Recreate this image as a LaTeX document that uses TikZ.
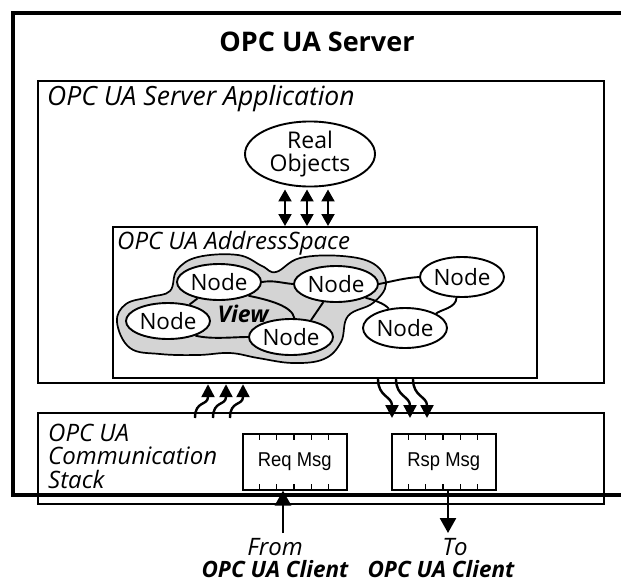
\documentclass[tikz,border=0pt]{standalone}
\usepackage{fontspec}
\setmainfont{Open Sans}
\newfontfamily\arialf[FakeStretch=0.92]{Liberation Sans}
\usetikzlibrary{shapes.geometric,arrows.meta,calc}
\begin{document}
\begin{tikzpicture}[x=1pt,y=-1pt,
  box/.style={draw, line width=1.8pt, inner sep=0, anchor=north west},
  nd/.style={draw, ellipse, line width=1.9pt, fill=white, minimum width=84pt, minimum height=36pt, inner sep=0, font=\fontsize{22.5}{24}\selectfont},
  edge/.style={line width=1.9pt},
  dbl/.style={line width=2pt, {Triangle[length=12pt,width=13pt]}-{Triangle[length=12pt,width=13pt]}},
  wavy/.style={line width=2.4pt, -{Triangle[length=13pt,width=13pt]}},
  big/.style={line width=2.6pt, -{Triangle[length=15pt,width=16pt]}},
  lbl/.style={font=\fontsize{24}{23.5}\selectfont\itshape, inner sep=0},
  bl/.style={font=\fontsize{22.5}{24}\selectfont\bfseries\itshape, inner sep=0},
  msg/.style={box, line width=1.5pt, minimum width=104pt, minimum height=56pt},
  tick/.style={line width=1.3pt}
]
\useasboundingbox (0,0) rectangle (621,582);
\fill[white] (0,0) rectangle (621,582);

% application box
\node[box, line width=2.2pt, minimum width=566pt, minimum height=302pt] (app) at (37,80) {};
\node[lbl, font=\fontsize{26.5}{28}\selectfont\itshape, anchor=west] (applbl) at (47,99) {OPC UA Server Application};
\node[font=\fontsize{27}{30}\selectfont\bfseries] (title) at (317,42) {OPC UA Server};

% real objects
\node[draw, ellipse, line width=1.9pt, minimum width=130pt, minimum height=60pt, inner sep=0, align=center,
      font=\fontsize{23}{23}\selectfont] (real) at (310,154) {Real\\Objects};

% address space
\node[box, line width=2pt, minimum width=424pt, minimum height=151pt] (as) at (112,226) {};
\node[lbl, anchor=west] (aslbl) at (117,243) {OPC UA AddressSpace};

\foreach \i/\dx in {1/-25,2/-3,3/18} {
  \coordinate (r\i) at ($(real.south)+(\dx,2)$);
  \draw[dbl] (r\i) -- (r\i |- as.north);
}

% view blob
\draw[fill=black!17, line width=1.7pt] plot[smooth cycle, tension=0.65] coordinates {
  (117,322) (126,304) (150,297) (170,291) (177,270) (198,257) (238,255) (262,266) (276,272)
  (300,258) (342,256) (374,264) (386,284) (373,303) (348,316) (341,342) (324,359) (293,363)
  (258,358) (230,353) (198,355) (160,354) (130,348)};

\node[nd] (n1) at (219,282) {Node};
\node[nd] (n2) at (336,284) {Node};
\node[nd] (n3) at (168,321) {Node};
\node[nd] (n4) at (291,337) {Node};
\node[nd, minimum height=40pt] (n5) at (462,277) {Node};
\node[nd, minimum height=40pt] (n6) at (405,328) {Node};
\node[font=\fontsize{23}{24}\selectfont\bfseries\itshape, inner sep=0] (view) at (243,314) {View};

\draw[edge] (n1.east) .. controls +(12,-2) and +(-12,-1) .. (n2.west);
\draw[edge] (n1) -- (n3);
\draw[edge] (n1.-25) .. controls +(20,4) and +(-2,-12) .. (n4.80);
\draw[edge] (n2.-125) -- (n4.40);
\draw[edge] (n3.-28) .. controls +(15,4) and +(-15,0) .. (n4.west);
\draw[edge] (n2.east) .. controls +(15,-3) and +(-15,1) .. (n5.west);
\draw[edge] (n2.-25) .. controls +(8,2) and +(-4,-5) .. (n6.130);
\draw[edge] (n5.-105) .. controls +(0,10) and +(5,-4) .. (n6.25);

% communication stack
\node[box, line width=1.5pt, minimum width=566pt, minimum height=91pt] (comm) at (37,412) {};
\node[lbl, anchor=west, align=left] (commlbl) at (48,456) {OPC UA\\Communication\\Stack};

\node[msg] (req) at (242,433) {};
\node[font=\arialf\fontsize{20}{22}\selectfont, inner sep=0] (reqt) at (req.center) {Req Msg};
\node[msg] (rsp) at (391,433) {};
\node[font=\arialf\fontsize{20}{22}\selectfont, inner sep=0] (rspt) at (rsp.center) {Rsp Msg};
\foreach \b in {req,rsp} {
  \foreach \k in {1,...,5} {
    \draw[tick] ($(\b.north west)+(\k*104/6,0)$) -- +(0,7);
    \draw[tick] ($(\b.south west)+(\k*104/6,0)$) -- +(0,-7);
  }
}

% wavy arrows up
\foreach \o in {0,18,35} {
  \draw[wavy] ([shift={(158+\o,6)}]comm.north west) .. controls +(0,-18) and +(0,22) .. ([xshift=171pt+\o pt]app.south west);
}
% wavy arrows down
\foreach \o in {0,18,35} {
  \draw[wavy] ([xshift=266pt+\o pt]as.south west) .. controls +(0,18) and +(0,-22) .. ([shift={(355+\o,6)}]comm.north west);
}

% outer server frame
\draw[line width=3.8pt] (640,13) -- (13,13) -- (13,495) -- (640,495);

% client arrows
\coordinate (fromc) at (283,533);
\draw[big] (fromc) -- (fromc |- req.south);
\coordinate (toc) at (448,533);
\draw[big] (toc |- rsp.south) -- (toc);

\node[lbl] (from) at (275,547) {From};
\node[bl] (cl1) at (275,569) {OPC UA Client};
\node[lbl] (to) at (455,547) {To};
\node[bl] (cl2) at (441,569) {OPC UA Client};
\end{tikzpicture}
\end{document}
